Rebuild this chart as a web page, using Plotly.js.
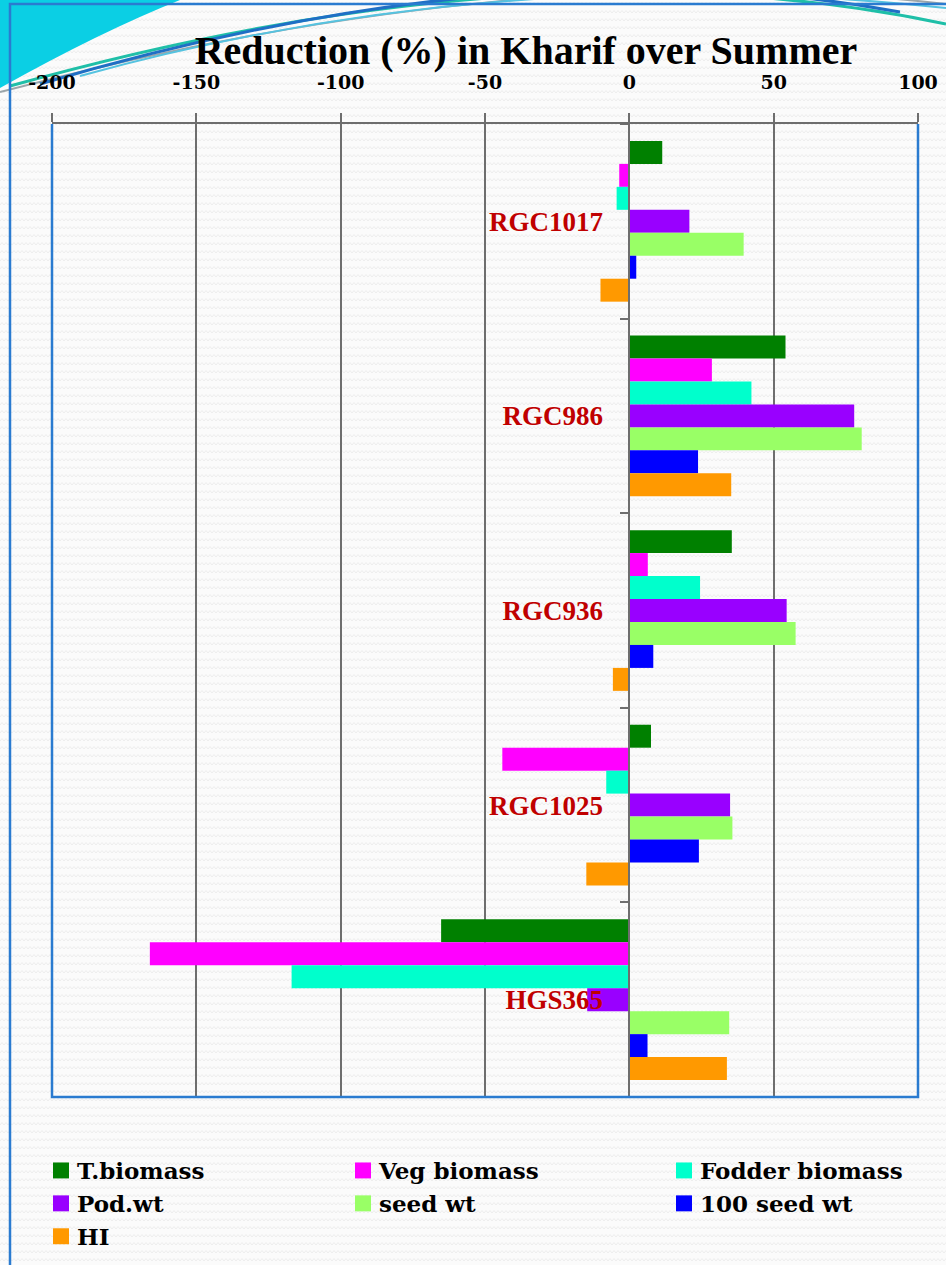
<!DOCTYPE html>
<html>
<head>
<meta charset="utf-8">
<script src="https://cdn.plot.ly/plotly-3.0.1.min.js"></script>
<style>
  html, body { margin: 0; padding: 0; }
  body {
    width: 946px; height: 1265px; overflow: hidden;
    background-color: #fbfbfb;
    background-image: url("data:image/svg+xml;utf8,<svg xmlns='http://www.w3.org/2000/svg' width='8' height='8'><path d='M0,5 L2,2.5 L4,5 L6,2.5 L8,5' fill='none' stroke='%23ececec' stroke-width='1'/></svg>");
  }
  #chart { width: 946px; height: 1265px; }
</style>
</head>
<body>
<div id="chart"></div>
<script>
// Genotypes (top to bottom) and the traits measured for each
const genotypes = ['RGC1017', 'RGC986', 'RGC936', 'RGC1025', 'HGS365'];

const tBiomass    = [11.4, 54.1, 35.5,   7.5,  -65.2];
const vegBiomass  = [-3.5, 28.6,  6.4, -44.0, -166.1];
const fodderBio   = [-4.4, 42.3, 24.5,  -8.0, -117.0];
const podWt       = [20.8, 77.9, 54.5,  34.9,  -14.6];
const seedWt      = [39.6, 80.5, 57.6,  35.7,   34.6];
const hundredSeed = [ 2.4, 23.8,  8.3,  24.1,    6.3];
const harvestIdx  = [-10.0, 35.3, -5.7, -14.9,  33.8];

const xTickVals  = [-200, -150, -100, -50, 0, 50, 100];
const xTickText  = ['-200', '-150', '-100', '-50', '0', '50', '100'];

// Plot-area geometry in page pixels
const W = 946, H = 1265;
const M = { l: 52, r: 28, t: 124, b: 168, autoexpand: false };
const PW = W - M.l - M.r, PH = H - M.t - M.b;
const px = x => (x - M.l) / PW;
const py = y => (M.t + PH - y) / PH;
const path = pts => pts.map(p => typeof p === 'string' ? p : (px(p[0]).toFixed(5) + ',' + py(p[1]).toFixed(5))).join(' ');

const seriesDefs = [
  { name: 'T.biomass',     x: tBiomass,    color: '#008000', legend: 'legend'  },
  { name: 'Veg biomass',   x: vegBiomass,  color: '#ff00ff', legend: 'legend2' },
  { name: 'Fodder biomass',x: fodderBio,   color: '#00ffcc', legend: 'legend3' },
  { name: 'Pod.wt',        x: podWt,       color: '#9900ff', legend: 'legend'  },
  { name: 'seed wt',       x: seedWt,      color: '#99ff66', legend: 'legend2' },
  { name: '100 seed wt',   x: hundredSeed, color: '#0000ff', legend: 'legend3' },
  { name: 'HI',            x: harvestIdx,  color: '#ff9900', legend: 'legend'  }
];

const traces = seriesDefs.map(s => ({
  type: 'bar',
  orientation: 'h',
  name: s.name,
  x: s.x,
  y: genotypes,
  legend: s.legend,
  marker: { color: s.color, line: { width: 0 } },
  hoverinfo: 'x+name'
}));

const xMin = -200, xMax = 100;
const gridGray = '#6e6e6e';
const legendFont = { family: 'DejaVu Serif', size: 23, color: '#000000', weight: 'bold' };
const legendBase = {
  orientation: 'v', xanchor: 'left', yanchor: 'top',
  bgcolor: 'rgba(0,0,0,0)', font: legendFont, tracegroupgap: 0, itemwidth: 30
};

const frameBlue = '#2a7bd0';

const layout = {
  width: W, height: H,
  margin: M,
  paper_bgcolor: 'rgba(0,0,0,0)',
  plot_bgcolor: 'rgba(0,0,0,0)',
  barmode: 'group',
  bargap: 0.174,
  bargroupgap: 0,
  title: {
    text: 'Reduction (%) in Kharif over Summer',
    font: { family: 'Liberation Serif', size: 40, color: '#000000', weight: 'bold' },
    x: 526 / W, xanchor: 'center', xref: 'container',
    y: 1 - 50 / H, yanchor: 'middle', yref: 'container'
  },
  xaxis: {
    side: 'top',
    range: [xMin, xMax],
    tickmode: 'array',
    tickvals: xTickVals,
    ticktext: xTickText,
    showgrid: true, gridcolor: gridGray, gridwidth: 2,
    zeroline: false,
    showline: true, linecolor: gridGray, linewidth: 2,
    ticks: 'outside', ticklen: 9, tickwidth: 2, tickcolor: gridGray,
    ticklabelstandoff: 16,
    tickfont: { family: 'DejaVu Serif', size: 19, color: '#000000', weight: 'bold' },
    fixedrange: true
  },
  yaxis: {
    type: 'category',
    categoryorder: 'array',
    categoryarray: genotypes,
    autorange: 'reversed',
    anchor: 'free',
    position: (0 - xMin) / (xMax - xMin),
    showgrid: false, zeroline: false,
    showline: true, linecolor: gridGray, linewidth: 2,
    ticks: 'outside', tickson: 'boundaries', ticklen: 8, tickwidth: 2, tickcolor: gridGray,
    ticklabelstandoff: 20,
    tickfont: { family: 'Liberation Serif', size: 27, color: '#c00000', weight: 'bold' },
    fixedrange: true
  },
  showlegend: true,
  legend:  Object.assign({}, legendBase, { x: px(37),  y: py(1149) }),
  legend2: Object.assign({}, legendBase, { x: px(339), y: py(1149) }),
  legend3: Object.assign({}, legendBase, { x: px(660), y: py(1149) }),
  shapes: [
    // template swoosh in the top-left corner
    { type: 'path', xref: 'paper', yref: 'paper', layer: 'below',
      path: 'M' + path([[0, 0], 'L', [180, 0], 'Q', [100, 32], [0, 88]]) + ' Z',
      fillcolor: '#0bcfe4', line: { width: 0 } },
    { type: 'path', xref: 'paper', yref: 'paper', layer: 'below',
      path: 'M' + path([[0, 92], 'Q', [520, -45], [946, 4]]),
      line: { color: '#9aa5aa', width: 2 } },
    { type: 'path', xref: 'paper', yref: 'paper', layer: 'below',
      path: 'M' + path([[10, 86], 'Q', [540, -62], [946, 24]]),
      line: { color: '#1fbfa8', width: 3 } },
    { type: 'path', xref: 'paper', yref: 'paper', layer: 'below',
      path: 'M' + path([[40, 84], 'Q', [520, -58], [900, 12]]),
      line: { color: '#1f6fc5', width: 3 } },
    { type: 'path', xref: 'paper', yref: 'paper', layer: 'below',
      path: 'M' + path([[80, 76], 'Q', [500, -40], [946, 8]]),
      line: { color: '#55c3e0', width: 2 } },
    // page frame
    { type: 'path', xref: 'paper', yref: 'paper', layer: 'below',
      path: 'M' + path([[10, H], 'L', [10, 4], 'L', [W, 4]]),
      line: { color: frameBlue, width: 2.5 } },
    // plot-area border on the left, bottom and right
    { type: 'path', xref: 'paper', yref: 'paper', layer: 'above',
      path: 'M0,1 L0,0 L1,0 L1,1',
      line: { color: frameBlue, width: 2.5 } }
  ]
};

// Slightly larger legend swatches, nudged toward their labels
function enlargeSwatches() {
  document.querySelectorAll('#chart .legendpoints path').forEach(p => {
    if (!p.hasAttribute('data-base-tf')) {
      p.setAttribute('data-base-tf', p.getAttribute('transform') || '');
    }
    const base = p.getAttribute('data-base-tf');
    p.setAttribute('transform', 'translate(4,0) ' + base + ' scale(1.33)');
  });
}

Plotly.newPlot('chart', traces, layout, { displayModeBar: false, staticPlot: true })
  .then(gd => { enlargeSwatches(); gd.on('plotly_afterplot', enlargeSwatches); });
</script>
</body>
</html>
